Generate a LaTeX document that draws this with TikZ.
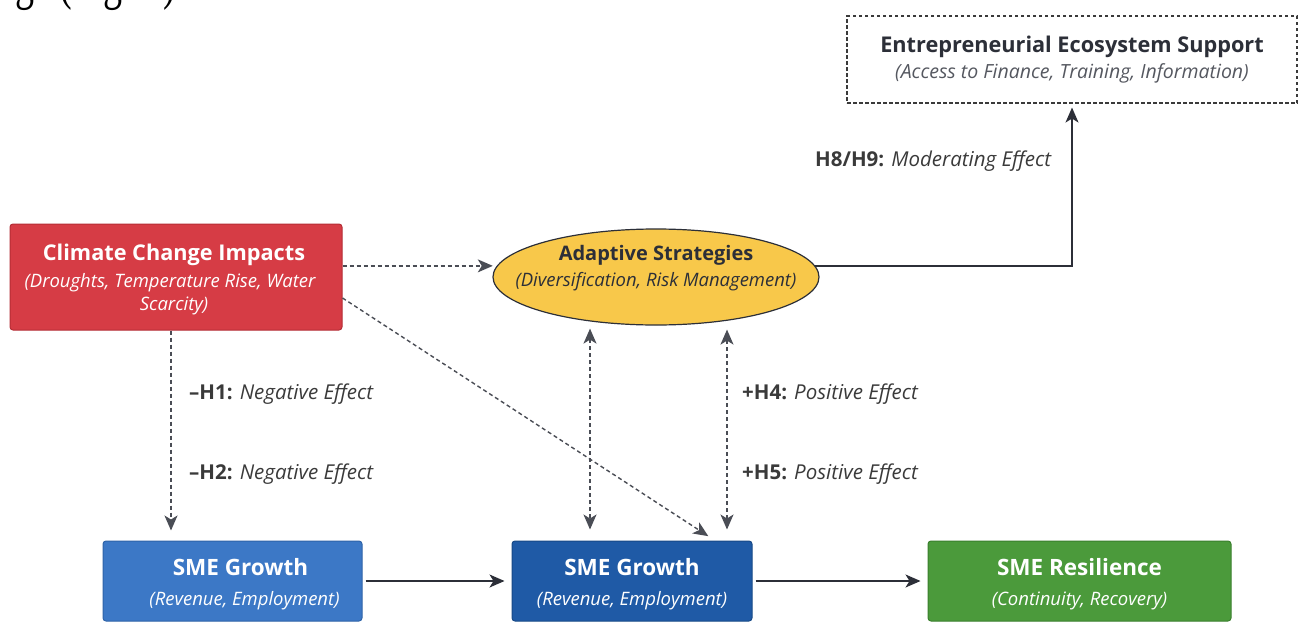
\documentclass[tikz,border=0pt]{standalone}
\usepackage{fontspec}
\setmainfont{Open Sans}
\newfontfamily\captionserif{Liberation Serif}
\usetikzlibrary{arrows.meta,shapes.geometric,calc}

\definecolor{climred}{HTML}{D63C45}
\definecolor{climredline}{HTML}{B52D35}
\definecolor{adaptyellow}{HTML}{F8C84A}
\definecolor{smeblue}{HTML}{3C78C6}
\definecolor{smeblueline}{HTML}{2E63A8}
\definecolor{smenavy}{HTML}{1F5AA6}
\definecolor{smenavyline}{HTML}{174987}
\definecolor{resgreen}{HTML}{4B9A3B}
\definecolor{resgreenline}{HTML}{3A7F2D}
\definecolor{inkdark}{HTML}{2C2F38}
\definecolor{dashink}{HTML}{4A4D55}
\definecolor{labelgray}{HTML}{3A3A3A}
\definecolor{subgray}{HTML}{555860}

% title and subtitle fonts
\newcommand\titlefont{\fontsize{21.7}{26}\selectfont\bfseries}
\newcommand\subfont{\fontsize{18.5}{22}\selectfont\itshape}
\newcommand\hyplabel[2]{{\fontsize{20.5}{24}\selectfont\textbf{#1:} \textit{#2}}}

\begin{document}
\begin{tikzpicture}[x=1pt,y=-1pt,
  >={Stealth[length=15pt,width=13pt,inset=4pt]},
  box/.style={rectangle, rounded corners=3pt, line width=1pt, inner sep=0pt},
  txt/.style={anchor=base, inner sep=0pt},
  conn/.style={draw=inkdark, line width=1.4pt},
  dashconn/.style={draw=dashink, line width=1.4pt, dash pattern=on 4pt off 3pt},
  hyp/.style={anchor=west, inner sep=0pt, text=labelgray}
]
\useasboundingbox (0,0) rectangle (1300,624);
\fill[white] (0,0) rectangle (1300,624);

% tail of the preceding text line
\begin{scope}
\clip (0,0) rectangle (1300,624);
\node[anchor=base west, inner sep=0pt, xscale=0.68, text=black]
  (prevline) at (-14,-2) {\captionserif\fontsize{56}{60}\selectfont ings (Fig. 1)};
\end{scope}

% shapes
\node[box, fill=climred, draw=climredline, minimum width=332pt, minimum height=106pt]
  (clim) at (176,277) {};
\node[ellipse, fill=adaptyellow, draw=inkdark, line width=1.2pt,
  minimum width=326pt, minimum height=96pt, inner sep=0pt] (adapt) at (656,277) {};
\node[rectangle, draw=labelgray, line width=1.1pt, dash pattern=on 3.5pt off 2.5pt,
  minimum width=450pt, minimum height=87pt, inner sep=0pt] (eco) at (1072,59.5) {};
\node[box, fill=smeblue, draw=smeblueline, minimum width=259pt, minimum height=80pt]
  (growthA) at (232.5,581) {};
\node[box, fill=smenavy, draw=smenavyline, minimum width=240pt, minimum height=80pt]
  (growthB) at (632,581) {};
\node[box, fill=resgreen, draw=resgreenline, minimum width=303pt, minimum height=80pt]
  (resil) at (1079.5,581) {};

% texts inside the shapes
\node[txt, text=white] (climT) at ($(clim.center)+(-2,-17)$) {\titlefont Climate Change Impacts};
\node[txt, text=white] (climS1) at ($(clim.center)+(-6,10)$) {\subfont (Droughts, Temperature Rise, Water};
\node[txt, text=white] (climS2) at ($(clim.center)+(-2,33)$) {\subfont Scarcity)};

\node[txt, text=inkdark] (adaptT) at ($(adapt.center)+(0,-17)$) {\fontsize{20}{24}\selectfont\bfseries Adaptive Strategies};
\node[txt, text=inkdark] (adaptS) at ($(adapt.center)+(0,9)$) {\subfont (Diversification, Risk Management)};

\node[txt, text=inkdark] (ecoT) at ($(eco.center)+(0,-7.5)$) {\titlefont Entrepreneurial Ecosystem Support};
\node[txt, text=subgray] (ecoS) at ($(eco.center)+(0,18.5)$) {\fontsize{19.5}{22}\selectfont\itshape (Access to Finance, Training, Information)};

\node[txt, text=white] (growthAT) at ($(growthA.center)+(8,-6)$) {\fontsize{22.5}{26}\selectfont\bfseries SME Growth};
\node[txt, text=white] (growthAS) at ($(growthA.center)+(12,24)$) {\subfont (Revenue, Employment)};
\node[txt, text=white] (growthBT) at ($(growthB.center)+(0,-6)$) {\fontsize{22.5}{26}\selectfont\bfseries SME Growth};
\node[txt, text=white] (growthBS) at ($(growthB.center)+(0,24)$) {\subfont (Revenue, Employment)};
\node[txt, text=white] (resilT) at ($(resil.center)+(0,-6)$) {\fontsize{22.5}{26}\selectfont\bfseries SME Resilience};
\node[txt, text=white] (resilS) at ($(resil.center)+(0,24)$) {\subfont (Continuity, Recovery)};

% hypothesis labels
\node[hyp] (h89) at (815,161) {\hyplabel{H8/H9}{Moderating Effect}};
\node[hyp] (h1) at (189,394) {\hyplabel{–H1}{Negative Effect}};
\node[hyp] (h2) at (189,474) {\hyplabel{–H2}{Negative Effect}};
\node[hyp] (h4) at (742,394) {\hyplabel{+H4}{Positive Effect}};
\node[hyp] (h5) at (742,474) {\hyplabel{+H5}{Positive Effect}};

% landing points on the middle growth box
\coordinate (linkL) at ([xshift=-42pt]growthB.north);
\coordinate (linkR) at ([xshift=95pt]growthB.north);
\coordinate (linkD) at ([xshift=83pt]growthB.north);

% connectors
\draw[dashconn,->,shorten >=4pt] (clim.east |- adapt.176) -- (adapt.176);
\draw[dashconn,->,shorten >=8pt] ([yshift=-21pt]clim.east) -- (linkD);
\draw[dashconn,->,shorten >=10pt] ([xshift=-5pt]clim.south) -- ([xshift=-5pt]clim.south |- growthA.north);
\draw[dashconn,<->,shorten <=3pt,shorten >=11pt] (adapt.south -| linkL) -- (linkL);
\draw[dashconn,<->,shorten <=4pt,shorten >=11pt] (adapt.south -| linkR) -- (linkR);
\draw[conn,->,shorten >=4pt] (adapt.4) -| (eco.south);
\draw[conn,->,shorten <=3pt,shorten >=7pt] (growthA.east) -- (growthB.west);
\draw[conn,->,shorten <=3pt,shorten >=7pt] (growthB.east) -- (resil.west);
\end{tikzpicture}
\end{document}
